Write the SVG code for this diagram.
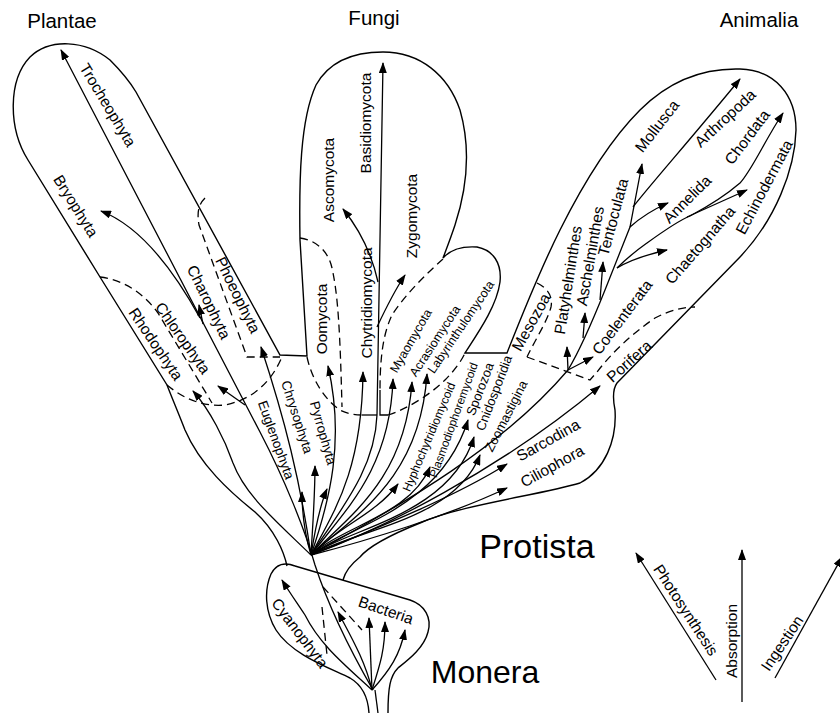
<svg xmlns="http://www.w3.org/2000/svg" width="840" height="713" viewBox="0 0 840 713">
<style>
.o{fill:none;stroke:#000;stroke-width:1.4}
.d{fill:none;stroke:#000;stroke-width:1.3;stroke-dasharray:8,5}
.a{fill:none;stroke:#000;stroke-width:1.3;marker-end:url(#ah)}
.l{fill:none;stroke:#000;stroke-width:1.3}
text{font-family:"Liberation Sans",Arial,sans-serif;fill:#000}
.t{font-size:15.5px;text-anchor:middle;dominant-baseline:central}
.s{font-size:12.5px;text-anchor:middle;dominant-baseline:central}
.k{font-size:20.5px;text-anchor:middle}
.b{font-size:34px;text-anchor:middle}
</style>
<defs>
<marker id="ah" viewBox="0 0 11 8" refX="10" refY="4" markerWidth="11" markerHeight="8" markerUnits="userSpaceOnUse" orient="auto"><path d="M0,0 L11,4 L0,8 z" fill="#000"/></marker>
</defs>
<rect width="840" height="713" fill="#fff"/>

<g id="outline">
<path class="o" d="M287,566 C284,552 275,530 255,512 C230,492 200,465 185,430 C178,412 172,398 167,385 L100,277 L28,160 C8,128 8,80 30,57 C50,38 85,40 110,60 C122,72 130,82 136,92 L280,355 L307,356 L300,240 C299,180 300,120 316,85 C330,60 355,52 383,52 C420,52 448,75 460,110 C470,145 468,185 455,225 C450,240 446,250 443,258 C450,250 462,246 477,247 C493,250 502,263 500,282 C497,305 480,330 465,353 L507,353 C520,320 540,270 560,230 C585,180 610,140 640,110 C670,80 705,68 740,69 C775,70 796,95 796,130 C795,170 775,220 740,257 L617,383 C612,390 613,400 615,410 C617,440 605,470 580,483 C540,495 460,505 420,523 C395,533 370,545 360,557 C350,565 345,572 343,580"/>
</g>

<g id="monera">
<path class="o" d="M295,566 L410,600 C425,605 432,618 428,632 C424,648 408,660 398,668 C390,676 388,688 388,713"/>
<path class="o" d="M295,566 C285,562 276,564 271,574 C264,590 265,612 276,630 C292,655 330,668 350,678 C362,685 368,697 369,713"/>
<path class="l" d="M375,690 L378,713"/>
<path class="d" d="M323,587 L362,630"/>
<path class="d" d="M322,607 L327,655"/>
</g>

<g id="connectors">
<path class="a" d="M373,690 C350,650 328,605 315,565 C305,530 285,480 260,432 L61,50"/>
<path class="a" d="M200,318 C178,278 145,228 101,211"/>
<path class="a" d="M203,324 L199,305"/>
<path class="a" d="M245,405 L218,386"/>
<path class="a" d="M311,555 C275,520 245,495 233,463 C225,440 210,410 193,391"/>
<path class="a" d="M311,555 C300,480 285,420 261,347"/>
<path class="a" d="M311,555 C305,535 302,515 302,492"/>
<path class="a" d="M311,555 C313,520 315,495 315,466"/>
<path class="a" d="M311,555 C315,530 320,505 327,489"/>
<path class="a" d="M311,555 C330,500 345,440 328,366"/>
<path class="a" d="M311,555 C335,510 362,470 363,372"/>
<path class="a" d="M311,555 C345,510 390,470 393,379"/>
<path class="a" d="M311,555 C350,515 405,480 412,382"/>
<path class="a" d="M311,555 C355,515 420,480 427,374"/>
<path class="a" d="M311,555 C340,525 375,515 398,484"/>
<path class="a" d="M311,555 C345,525 410,515 430,467"/>
<path class="a" d="M311,555 C350,525 440,510 468,420"/>
<path class="a" d="M311,555 C350,528 450,515 474,437"/>
<path class="a" d="M311,555 C355,530 455,520 480,455"/>
<path class="a" d="M311,555 C360,535 450,500 507,464"/>
<path class="a" d="M311,555 C370,540 450,515 507,488"/>
<path class="a" d="M311,555 C380,530 500,470 600,386"/>
<path class="a" d="M311,555 C340,510 375,470 377,415 L383,63"/>
<path class="a" d="M378,282 C372,255 360,230 343,209"/>
<path class="a" d="M377,327 C385,310 395,290 405,275"/>
<path class="l" d="M362,415 L377,415"/>
<path class="l" d="M380,390 L380,415 L388,415"/>
<path class="a" d="M311,555 C400,505 500,450 568,370 C580,350 595,315 605,290 C615,265 625,240 630,227 L642,164"/>
<path class="a" d="M568,370 L593,357"/>
<path class="a" d="M568,370 L567,347"/>
<path class="a" d="M583,338 L585,313"/>
<path class="a" d="M600,300 L603,262"/>
<path class="a" d="M617,268 C630,260 645,255 667,250"/>
<path class="a" d="M617,268 C630,255 640,248 647,243 C665,230 680,220 690,216 C705,208 725,196 740,183 C752,170 765,140 783,113"/>
<path class="a" d="M687,217 L747,190"/>
<path class="a" d="M630,227 C640,218 652,210 668,203"/>
<path class="a" d="M633,207 C650,185 690,140 740,79"/>
<path class="a" d="M372,690 C345,665 320,645 305,615 C295,600 288,590 282,580"/>
<path class="a" d="M372,690 C365,660 350,635 338,612"/>
<path class="a" d="M372,690 L369,618"/>
<path class="a" d="M372,690 C380,665 385,650 385,622"/>
<path class="a" d="M372,690 C390,670 400,655 405,630"/>
<path class="a" d="M716,680 L636,553"/>
<path class="a" d="M742,702 L742,550"/>
<path class="a" d="M775,678 L842,557"/>
</g>

<g id="dashed">
<path class="d" d="M100,277 C125,280 145,295 158,313 L212,403"/>
<path class="d" d="M167,385 C185,400 205,407 225,405 C250,400 270,385 282,357"/>
<path class="d" d="M205,198 C198,205 197,213 199,225 L247,357 L280,357"/>
<path class="d" d="M300,238 C315,240 328,250 332,268 C338,295 340,330 342,407"/>
<path class="d" d="M307,357 C312,380 325,400 340,410 C348,414 355,415 362,415"/>
<path class="d" d="M443,259 C425,275 405,295 392,315 C385,330 380,350 380,390"/>
<path class="d" d="M388,415 C405,410 430,395 445,380 C455,370 462,360 465,353"/>
<path class="d" d="M537,283 C548,288 553,297 551,307 C547,322 535,340 527,357"/>
<path class="d" d="M527,357 L590,380 L597,372 C610,355 630,335 655,318 C670,310 685,307 695,307"/>
</g>

<g id="labels">
<text class="k" x="62" y="28">Plantae</text>
<text class="k" x="374" y="25">Fungi</text>
<text class="k" x="759" y="27">Animalia</text>
<text class="b" x="537" y="558">Protista</text>
<text class="b" x="485" y="683" style="font-size:32px">Monera</text>

<text class="t" transform="translate(108,105) rotate(59)">Trocheophyta</text>
<text class="t" transform="translate(76,206) rotate(58)">Bryophyta</text>
<text class="t" transform="translate(156,344) rotate(56)">Rhodophyta</text>
<text class="t" transform="translate(183,338) rotate(55)">Chlorophyta</text>
<text class="t" transform="translate(209,302) rotate(64)">Charophyta</text>
<text class="t" transform="translate(238,295) rotate(64)">Phoeophyta</text>
<text class="s" transform="translate(276,440) rotate(70)" style="font-size:13.5px">Euglenophyta</text>
<text class="s" transform="translate(297,417) rotate(72)" style="font-size:13.5px">Chrysophyta</text>
<text class="s" transform="translate(323,433) rotate(74)" style="font-size:13.5px">Pyrrophyta</text>

<text class="t" transform="translate(321,319) rotate(-90)">Oomycota</text>
<text class="t" transform="translate(366,303) rotate(-90)">Chytridiomycota</text>
<text class="t" transform="translate(328,180) rotate(-90)">Ascomycota</text>
<text class="t" transform="translate(365,123) rotate(-90)">Basidiomycota</text>
<text class="t" transform="translate(411,216) rotate(-90)">Zygomycota</text>
<text class="s" transform="translate(411,341) rotate(-60)">Myaomycota</text>
<text class="s" transform="translate(435,341) rotate(-57)">Acrasiomycota</text>
<text class="s" transform="translate(461,327) rotate(-56)">Labyrinthulomycota</text>

<text class="s" transform="translate(429,437) rotate(-67)" style="font-size:12px">Hyphochytridiomycoid</text>
<text class="s" transform="translate(453,420) rotate(-70)" style="font-size:11.7px">Plasmodiophoremycoid</text>
<text class="s" transform="translate(480,389) rotate(-69)" style="font-size:13px">Sporozoa</text>
<text class="s" transform="translate(494,393) rotate(-69)" style="font-size:13px">Cnidosporidia</text>
<text class="s" transform="translate(506,416) rotate(-63)" style="font-size:13px">Zoomastigina</text>
<text class="t" transform="translate(548,440) rotate(-29)">Sarcodina</text>
<text class="t" transform="translate(552,466) rotate(-29)">Ciliophora</text>

<text class="t" transform="translate(629,361) rotate(-42)">Porifera</text>
<text class="t" transform="translate(622,317) rotate(-53)">Coelenterata</text>
<text class="t" transform="translate(531,322) rotate(-61)">Mesozoa</text>
<text class="t" transform="translate(568,280) rotate(-81)">Platyhelminthes</text>
<text class="t" transform="translate(590,256) rotate(-80)">Aschelminthes</text>
<text class="t" transform="translate(613,217) rotate(-75)">Tentoculata</text>
<text class="t" transform="translate(657,126) rotate(-52)">Mollusca</text>
<text class="t" transform="translate(725,118) rotate(-43)">Arthropoda</text>
<text class="t" transform="translate(687,199) rotate(-45)">Annelida</text>
<text class="t" transform="translate(747,137) rotate(-53)">Chordata</text>
<text class="t" transform="translate(700,245) rotate(-49)">Chaetognatha</text>
<text class="t" transform="translate(764,187) rotate(-62)">Echinodermata</text>

<text class="t" transform="translate(386,610) rotate(19)">Bacteria</text>
<text class="t" transform="translate(300,633) rotate(53)">Cyanophyta</text>

<text class="t" transform="translate(686,610) rotate(57)">Photosynthesis</text>
<text class="t" transform="translate(731,641) rotate(-90)">Absorption</text>
<text class="t" transform="translate(782,643) rotate(-56)">Ingestion</text>
</g>
</svg>
